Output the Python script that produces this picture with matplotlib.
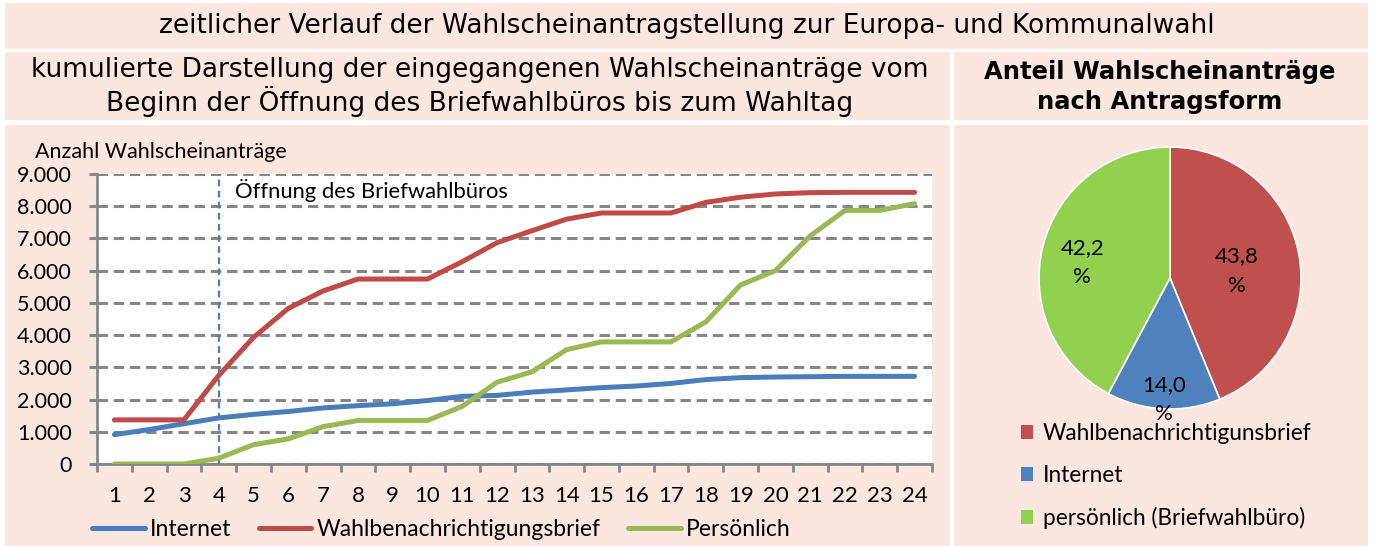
import matplotlib
matplotlib.use("Agg")
import matplotlib.pyplot as plt
from matplotlib.patches import Rectangle, Patch
from matplotlib.ticker import FuncFormatter, MultipleLocator
import numpy as np

W, H = 1375, 546

# cumulative applications per day since opening
days = list(range(1, 25))
internet = [910, 1070, 1250, 1430, 1540, 1630, 1740, 1810, 1870, 1970, 2100, 2130,
            2230, 2300, 2370, 2420, 2500, 2620, 2680, 2700, 2710, 2720, 2720, 2720]
brief = [1370, 1370, 1370, 2750, 3930, 4830, 5370, 5740, 5740, 5740, 6280, 6870,
         7240, 7600, 7790, 7790, 7790, 8120, 8280, 8380, 8420, 8430, 8430, 8430]
persoenlich = [0, 0, 0, 180, 600, 780, 1160, 1350, 1350, 1350, 1790, 2540,
               2860, 3550, 3790, 3790, 3790, 4410, 5560, 6000, 7080, 7870, 7870, 8080]
opening_day = 4

pie_labels = ["Wahlbenachrichtigunsbrief", "Internet", "persönlich (Briefwahlbüro)"]
pie_shares = [43.8, 14.0, 42.2]

pink = "#FBE7E0"
grey = "#868686"
c_blue, c_red, c_green = "#4A7EBB", "#BE4B48", "#98B954"
pie_colors = ["#C0504D", "#4F81BD", "#92D050"]

narrow = ["Lato", "DejaVu Sans"]
wide = ["DejaVu Sans"]


def box(x0, y0, x1, y1):
    # pixel box (top-left origin) -> figure fraction [l, b, w, h]
    return [x0 / W, 1 - y1 / H, (x1 - x0) / W, (y1 - y0) / H]


def panel(x0, y0, x1, y1):
    l, b, w, h = box(x0, y0, x1, y1)
    fig.patches.append(Rectangle((l, b), w, h, transform=fig.transFigure,
                                 facecolor=pink, edgecolor="none", zorder=-10))


fig = plt.figure(figsize=(W / 100, H / 100), dpi=100, facecolor="white")

panel(5, 3, 1368, 49)
panel(5, 52, 950, 120)
panel(954, 52, 1368, 120)
panel(5, 125, 950, 546)
panel(954, 125, 1368, 546)

fig.text(687 / W, 1 - 26 / H,
         "zeitlicher Verlauf der Wahlscheinantragstellung zur Europa- und Kommunalwahl",
         ha="center", va="center", fontsize=19, family=wide)
fig.text(480 / W, 1 - 87 / H,
         "kumulierte Darstellung der eingegangenen Wahlscheinanträge vom\n"
         "Beginn der Öffnung des Briefwahlbüros bis zum Wahltag",
         ha="center", va="center", fontsize=19, family=wide, linespacing=1.15)
fig.text(1160 / W, 1 - 87 / H, "Anteil Wahlscheinanträge\nnach Antragsform",
         ha="center", va="center", fontsize=17.5, family=wide, weight="bold", linespacing=1.3)

# ---- line chart
ax = fig.add_axes(box(97, 174, 932, 464))
ax.set_facecolor("white")
ax.plot(days, internet, color=c_blue, lw=3.6, solid_capstyle="round", label="Internet", zorder=4)
ax.plot(days, brief, color=c_red, lw=3.6, solid_capstyle="round", label="Wahlbenachrichtigungsbrief", zorder=4)
ax.plot(days, persoenlich, color=c_green, lw=3.6, solid_capstyle="round", label="Persönlich", zorder=4)
ax.axvline(opening_day, color=c_blue, lw=1.6, ls=(0, (3, 2)), zorder=3)
ax.text(opening_day + 0.48, 8500, "Öffnung des Briefwahlbüros", va="center", ha="left",
        fontsize=15.8, family=narrow)

ax.set_xlim(0.5, 24.5)
ax.set_ylim(0, 9000)
ax.set_xticks(days)
ax.xaxis.set_minor_locator(MultipleLocator(1, offset=0.5))
ax.yaxis.set_major_locator(MultipleLocator(1000))
ax.yaxis.set_major_formatter(FuncFormatter(lambda v, p: f"{int(v):,}".replace(",", ".")))
ax.yaxis.grid(True, color=grey, lw=2.2, ls=(0, (3.4, 1.9)))
ax.set_axisbelow(True)
for s in ["top", "right"]:
    ax.spines[s].set_visible(False)
for s in ["left", "bottom"]:
    ax.spines[s].set_color(grey)
    ax.spines[s].set_linewidth(2.0)
ax.tick_params(axis="x", which="major", length=0, pad=16, labelsize=16)
ax.tick_params(axis="x", which="minor", length=6, width=2.0, color=grey)
ax.tick_params(axis="y", length=6, width=2.2, color=grey, pad=12, labelsize=15.5)
for lab in ax.get_xticklabels() + ax.get_yticklabels():
    lab.set_family(narrow)

fig.text(35 / W, 1 - 152 / H, "Anzahl Wahlscheinanträge", ha="left", va="center",
         fontsize=15.5, family=narrow)

fig.legend(handles=ax.get_lines()[:3], loc="center left", bbox_to_anchor=(92 / W, 1 - 530 / H),
           ncol=3, frameon=False, handlelength=2.3, handletextpad=0.22, columnspacing=1.2,
           borderpad=0, borderaxespad=0, prop={"family": narrow, "size": 16.5})

# ---- pie
ax2 = fig.add_axes(box(1039, 147, 1301, 409))
wedges, _ = ax2.pie(pie_shares, colors=pie_colors, startangle=90, counterclock=False,
                    wedgeprops=dict(edgecolor="white", linewidth=1.2))
ax2.set_xlim(-1, 1)
ax2.set_ylim(-1, 1)
label_dist = [0.52, 0.88, 0.69]
for w, v, d in zip(wedges, pie_shares, label_dist):
    a = np.deg2rad((w.theta1 + w.theta2) / 2)
    ax2.text(d * np.cos(a), d * np.sin(a) - 0.05, f"{v:.1f}".replace(".", ",") + "\n%",
             ha="center", va="center", fontsize=16, family=narrow, linespacing=1.6)

pie_handles = [Patch(facecolor=c, edgecolor="none") for c in pie_colors]
fig.legend(handles=pie_handles, labels=pie_labels, loc="upper left",
           bbox_to_anchor=(1021 / W, 1 - 423 / H), frameon=False, handlelength=0.55,
           handleheight=0.55, handletextpad=0.42, labelspacing=0.93, borderpad=0,
           borderaxespad=0, prop={"family": narrow, "size": 16.3})

fig.savefig("out.png", dpi=100, facecolor="white")
